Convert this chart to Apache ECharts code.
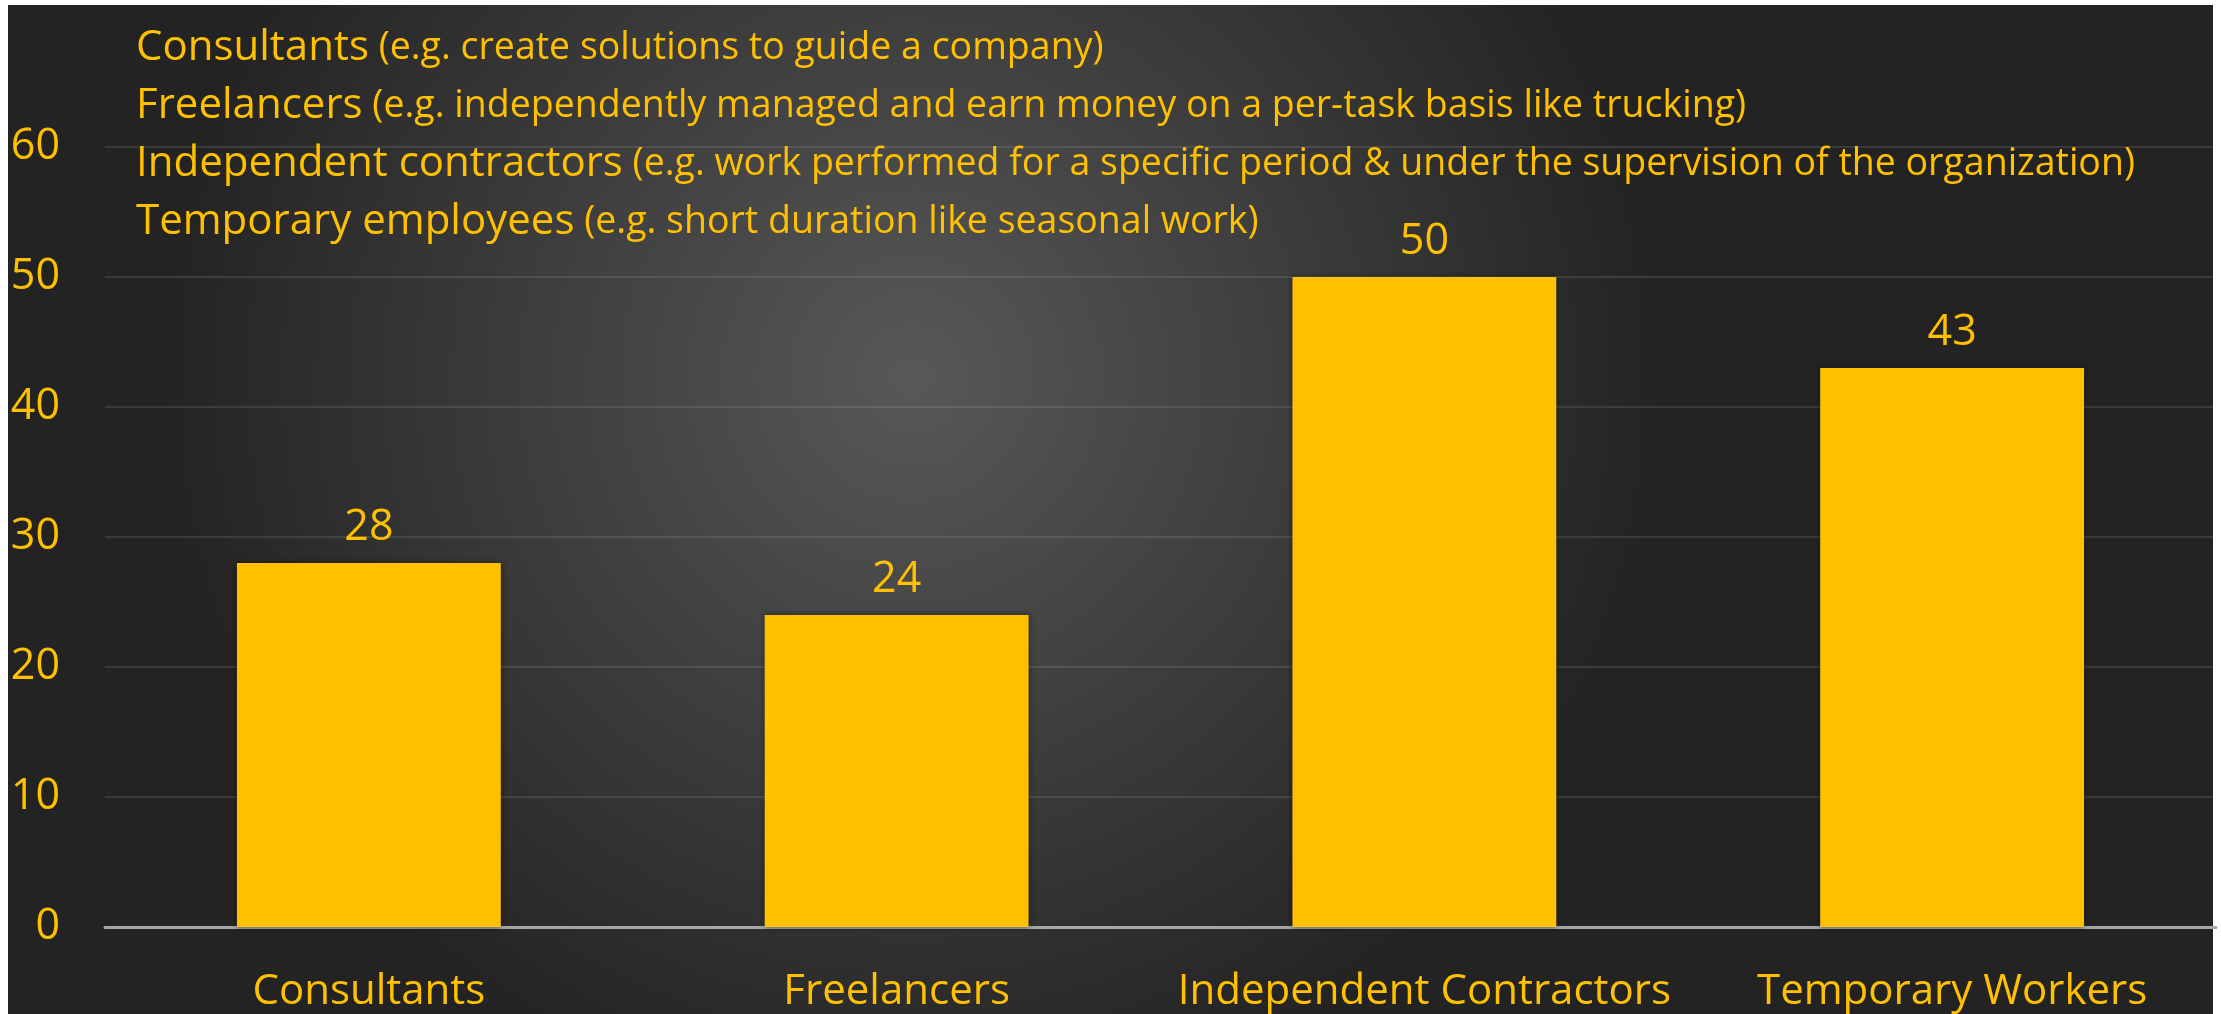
<!DOCTYPE html>
<html>
<head>
<meta charset="utf-8">
<script src="https://cdn.jsdelivr.net/npm/echarts@6/dist/echarts.min.js"></script>
<style>
  html, body { margin: 0; padding: 0; background: #fff; }
  #chart { width: 2221px; height: 1014px; }
</style>
</head>
<body>
<div id="chart"></div>
<script>
// categories and values
const categories = ['Consultants', 'Freelancers', 'Independent Contractors', 'Temporary Workers'];
const values = [28, 24, 50, 43];
const yTicks = [0, 10, 20, 30, 40, 50, 60];

// notes shown at the top of the chart
const noteNames = ['Consultants', 'Freelancers', 'Independent contractors', 'Temporary employees'];
const noteTexts = [
    '(e.g. create solutions to guide a company)',
    '(e.g. independently managed and earn money on a per-task basis like trucking)',
    '(e.g. work performed for a specific period & under the supervision of the organization)',
    '(e.g. short duration like seasonal work)'
];

const gold = '#FFC000';
const font = '"Open Sans", sans-serif';

const chart = echarts.init(document.getElementById('chart'));

const notes = noteNames.map((n, i) => '{a|' + n + '}{b| ' + noteTexts[i] + '}').join('\n');

const option = {
    animation: false,
    graphic: [{
        type: 'rect',
        z: -10,
        silent: true,
        shape: {x: 8, y: 5, width: 2205, height: 1009},
        style: {
            fill: new echarts.graphic.RadialGradient(0.41, 0.37, 0.75, [
                {offset: 0, color: '#585858'},
                {offset: 1, color: '#232323'}
            ])
        }
    }],
    title: {
        left: 131,
        top: 14,
        text: notes,
        textStyle: {
            rich: {
                a: {color: gold, fontFamily: font, fontSize: 42, fontWeight: 'normal', lineHeight: 58},
                b: {color: gold, fontFamily: font, fontSize: 37.5, fontWeight: 'normal', lineHeight: 58}
            }
        }
    },
    grid: {left: 105, right: 5, top: 147, bottom: 87},
    xAxis: {
        type: 'category',
        data: categories,
        axisTick: {show: false},
        axisLine: {lineStyle: {color: '#a6a6a6', width: 3}},
        axisLabel: {
            color: gold,
            fontFamily: font,
            fontSize: 42,
            margin: 44,
            interval: 0
        }
    },
    yAxis: {
        type: 'value',
        min: 0,
        max: 60,
        interval: 10,
        axisLine: {show: false},
        axisTick: {show: false},
        splitLine: {lineStyle: {color: 'rgba(255,255,255,0.1)', width: 2}},
        axisLabel: {
            color: gold,
            fontFamily: font,
            fontSize: 43,
            margin: 45,
            formatter: v => (yTicks.indexOf(v) >= 0 ? String(v) : '')
        }
    },
    series: [{
        type: 'bar',
        data: values,
        barWidth: '50%',
        itemStyle: {
            color: gold,
            shadowBlur: 6,
            shadowColor: 'rgba(0,0,0,0.5)'
        },
        label: {
            show: true,
            position: 'top',
            distance: 14,
            color: gold,
            fontFamily: font,
            fontSize: 43
        }
    }]
};

chart.setOption(option);
</script>
</body>
</html>
